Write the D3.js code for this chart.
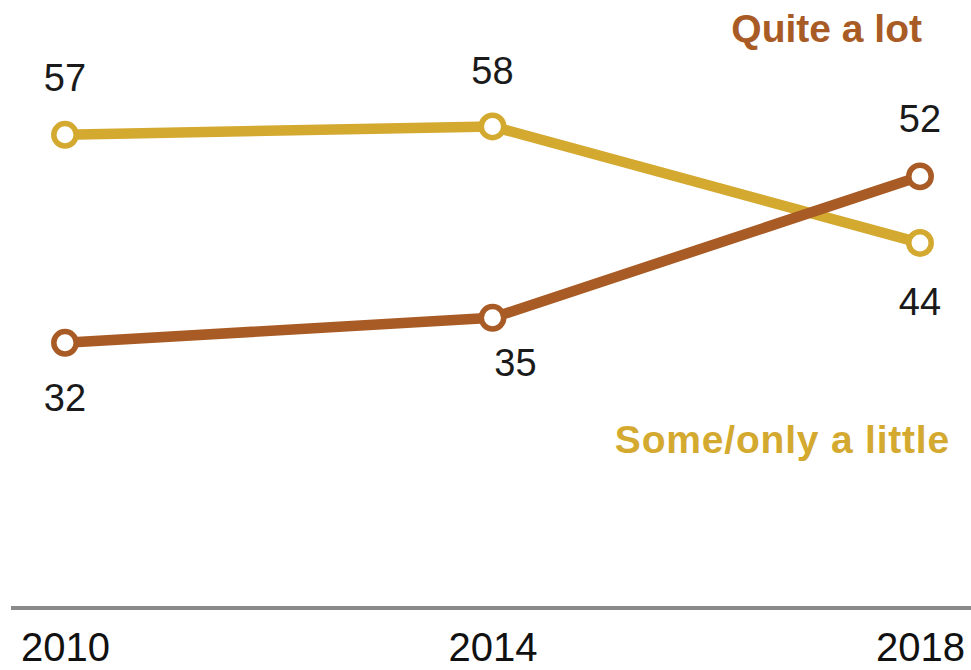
<!DOCTYPE html>
<html><head><meta charset="utf-8">
<script src="https://cdn.jsdelivr.net/npm/d3@7"></script>
<style>body{margin:0;background:#fff}svg{display:block}</style>
</head><body>
<svg id="c" width="971" height="670"></svg>
<script>
const years = [2010, 2014, 2018];
const quiteALot = [32, 35, 52];
const someLittle = [57, 58, 44];
const seriesNames = ["Quite a lot", "Some/only a little"];
const tickLabels = ["2010", "2014", "2018"];

const colors = {"Quite a lot": "#A95B25", "Some/only a little": "#D4A92F"};
const svg = d3.select("#c");
const x = d3.scaleLinear().domain([2010, 2018]).range([65, 920]);
const y = d3.scaleLinear().domain([0, 73.2]).range([609, 0]);

// axis baseline
svg.append("line").attr("x1", 11).attr("x2", 971).attr("y1", y(0) - 1).attr("y2", y(0) - 1)
  .attr("stroke", "#8a8a8a").attr("stroke-width", 4);
const xAxis = d3.axisBottom(x).tickValues(years).tickFormat((d, i) => tickLabels[i]).tickSize(0).tickPadding(0);
const ax = svg.append("g").attr("transform", `translate(0,${y(0)})`).call(xAxis);
ax.select(".domain").remove();
ax.selectAll("text").attr("font-family", "Liberation Sans, Arial, sans-serif").attr("font-size", 40)
  .attr("fill", "#111").attr("dy", null).attr("y", 52);

const series = [
  {name: seriesNames[1], values: someLittle, pos: ["a", "a", "b"]},
  {name: seriesNames[0], values: quiteALot, pos: ["b", "b", "a"]}
];
const line = d3.line().x((d, i) => x(years[i])).y(d => y(d));
// label nudges (layout only)
const nudge = {"Quite a lot": [[0, 0], [23, -10], [0, 0]], "Some/only a little": [[0, 0], [0, 2], [0, 4]]};

series.forEach(s => {
  const g = svg.append("g");
  g.append("path").datum(s.values).attr("d", line).attr("fill", "none")
    .attr("stroke", colors[s.name]).attr("stroke-width", 10.5).attr("stroke-linejoin", "round");
  g.selectAll("circle").data(s.values).join("circle")
    .attr("cx", (d, i) => x(years[i])).attr("cy", d => y(d)).attr("r", 11.2)
    .attr("fill", "#fff").attr("stroke", colors[s.name]).attr("stroke-width", 5.5);
  g.selectAll("text").data(s.values).join("text")
    .attr("x", (d, i) => x(years[i]) + nudge[s.name][i][0])
    .attr("y", (d, i) => y(d) + (s.pos[i] === "a" ? -44 : 68) + nudge[s.name][i][1])
    .attr("text-anchor", "middle").attr("font-family", "Liberation Sans, Arial, sans-serif")
    .attr("font-size", 38).attr("fill", "#1a1a1a").text(d => d);
});

svg.append("text").attr("x", 922).attr("y", 42).attr("text-anchor", "end")
  .attr("font-family", "Liberation Sans, Arial, sans-serif").attr("font-weight", "bold")
  .attr("font-size", 39).attr("fill", colors["Quite a lot"]).text(seriesNames[0]);
svg.append("text").attr("x", 950).attr("y", 453).attr("text-anchor", "end")
  .attr("font-family", "Liberation Sans, Arial, sans-serif").attr("font-weight", "bold")
  .attr("font-size", 39).attr("letter-spacing", 0.8).attr("fill", colors["Some/only a little"]).text(seriesNames[1]);
</script>
</body></html>
